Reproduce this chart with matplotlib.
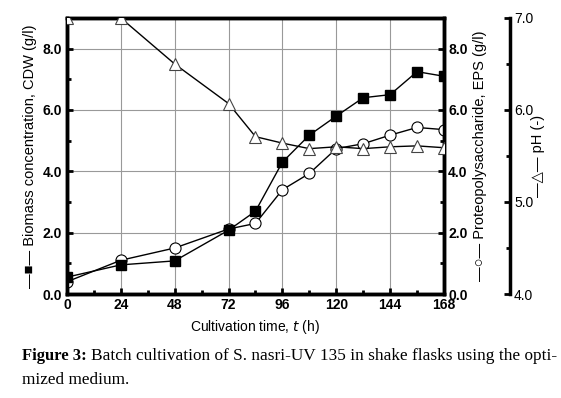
import numpy as np
import matplotlib.pyplot as plt
from matplotlib.ticker import MultipleLocator, FormatStrFormatter

# Data
time_h = [0, 24, 48, 72, 84, 96, 108, 120, 132, 144, 156, 168]
cdw = [0.55, 0.95, 1.08, 2.08, 2.7, 4.3, 5.18, 5.8, 6.4, 6.5, 7.25, 7.1]
eps = [0.4, 1.1, 1.5, 2.12, 2.3, 3.4, 3.93, 4.74, 4.9, 5.18, 5.43, 5.36]
ph = [7.0, 7.0, 6.5, 6.07, 5.71, 5.64, 5.58, 5.6, 5.58, 5.6, 5.61, 5.59]

plt.rcParams['font.family'] = ['Liberation Sans', 'DejaVu Sans']

fig = plt.figure(figsize=(5.61, 3.98), dpi=100)
ax1 = fig.add_axes([0.1194, 0.2613, 0.672, 0.6935])
ax2 = ax1.twinx()
ax3 = ax1.twinx()

# Lines
ax1.plot(time_h, cdw, '-s', c='black', lw=1, ms=7, mfc='black', mec='black', zorder=5)
ax1.plot(time_h, eps, '-o', c='black', lw=1, ms=8, mfc='white', mec='black', mew=0.8, zorder=4)
ax3.plot(time_h, ph, '-^', c='black', lw=1, ms=9, mfc='white', mec='#444444', mew=0.8, zorder=3)

ax1.set_xlim(0, 168)
ax1.set_ylim(0, 9)
ax2.set_ylim(0, 9)
ax3.set_ylim(4, 7)

ax1.xaxis.set_major_locator(MultipleLocator(24))
ax1.xaxis.set_minor_locator(MultipleLocator(12))
for ax in (ax1, ax2):
    ax.yaxis.set_major_locator(MultipleLocator(2))
    ax.yaxis.set_minor_locator(MultipleLocator(1))
    ax.yaxis.set_major_formatter(FormatStrFormatter('%.1f'))
ax3.yaxis.set_major_locator(MultipleLocator(1))
ax3.yaxis.set_minor_locator(MultipleLocator(0.5))
ax3.yaxis.set_major_formatter(FormatStrFormatter('%.1f'))

ax1.grid(True, which='major', color='#999999', lw=0.8)
ax1.set_axisbelow(True)

for ax in (ax1, ax2, ax3):
    for sp in ax.spines.values():
        sp.set_linewidth(2.5)
    ax.tick_params(which='both', direction='in', width=2, labelsize=10)
    ax.tick_params(which='major', length=4)
    ax.tick_params(which='minor', length=3)
    for lab in ax.get_xticklabels() + ax.get_yticklabels():
        lab.set_fontweight('bold')

ax1.tick_params(axis='x', pad=3)
ax2.tick_params(axis='y', pad=3)

ax3.spines['right'].set_position(('axes', 1.175))
ax3.spines['top'].set_visible(False)
ax3.spines['bottom'].set_visible(False)
ax3.spines['left'].set_visible(False)
ax3.tick_params(axis='y', pad=3)

ax1.set_xlabel('Cultivation time, $\\mathit{t}$ (h)', fontsize=10)
ax1.set_ylabel('\u2014\u25a0\u2014 Biomass concentration, CDW (g/l)', fontsize=10.5, labelpad=4)
ax2.set_ylabel('\u2014\u25cb\u2014 Proteopolysaccharide, EPS (g/l)', fontsize=10.5, labelpad=4)
ax3.set_ylabel('\u2014\u25b3\u2014 pH (-)', fontsize=10.5, labelpad=-2)

# Caption
renderer = fig.canvas.get_renderer()
t1 = fig.text(0.039, 0.095, 'Figure 3:', fontsize=12, family='Liberation Serif',
              fontweight='bold')
bb = t1.get_window_extent(renderer).transformed(fig.transFigure.inverted())
fig.text(bb.x1 + 0.008, 0.095,
         'Batch cultivation of S. nasri-UV 135 in shake flasks using the opti-',
         fontsize=12.4, family='Liberation Serif')
fig.text(0.039, 0.035, 'mized medium.', fontsize=12.4, family='Liberation Serif')

fig.savefig('out.png', dpi=100)
